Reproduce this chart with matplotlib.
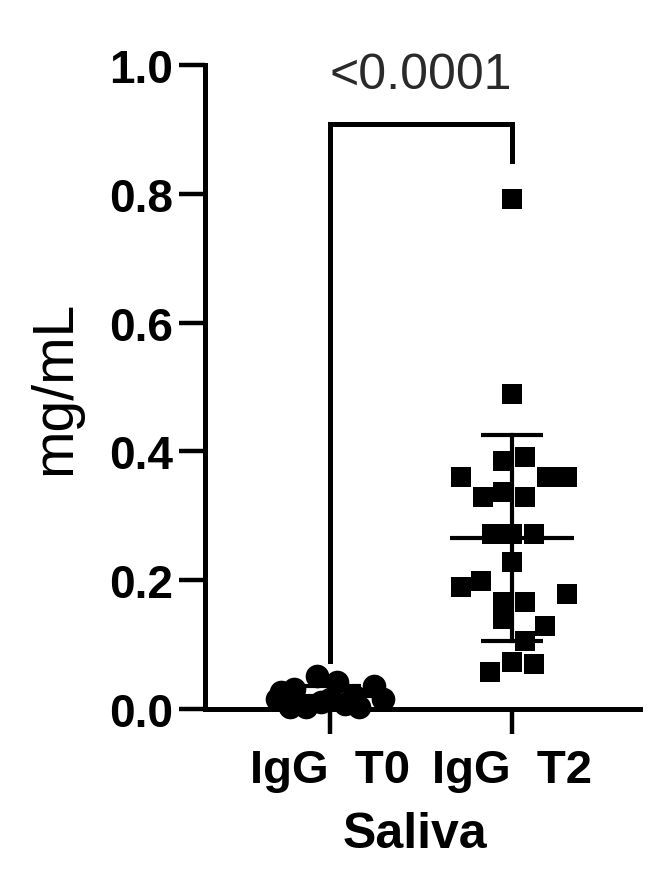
"""Saliva IgG at T0 vs T2 — scatter with mean +/- SD and significance bracket."""

import matplotlib

matplotlib.use("Agg")
import matplotlib.pyplot as plt
import numpy as np

plt.rcParams["font.family"] = ["Liberation Sans", "DejaVu Sans"]

# Group names and positions on the x-axis
GROUPS = ["IgG  T0", "IgG  T2"]

# IgG T0 values (mg/mL) with horizontal jitter (in group-width units)
t0_values = [0.051, 0.042, 0.036, 0.026, 0.031, 0.016, 0.016, 0.020,
             0.003, 0.003, 0.003, 0.016, 0.008, 0.011]
t0_offsets = [-0.07, 0.04, 0.24, -0.27, -0.20, 0.29, 0.0, 0.13,
              -0.22, -0.13, 0.16, -0.29, 0.08, -0.05]

# IgG T2 values (mg/mL) with horizontal jitter
t2_values = [0.792, 0.489, 0.391, 0.385, 0.360, 0.360, 0.360, 0.337,
             0.329, 0.329, 0.272, 0.272, 0.272, 0.228, 0.189, 0.199,
             0.179, 0.166, 0.166, 0.140, 0.129, 0.106, 0.073, 0.070, 0.057]
t2_offsets = [0.0, 0.0, 0.07, -0.05, -0.28, 0.19, 0.30, -0.05,
              -0.16, 0.07, -0.11, 0.0, 0.12, 0.0, -0.28, -0.17,
              0.30, -0.05, 0.07, -0.05, 0.18, 0.07, 0.0, 0.12, -0.12]

P_LABEL = "<0.0001"
Y_TICKS = [0.0, 0.2, 0.4, 0.6, 0.8, 1.0]


def draw_group(ax, x, values, offsets, marker, size):
    values = np.array(values)
    xs = x + np.array(offsets)
    ax.scatter(xs, values, s=size, marker=marker, color="black",
               linewidths=0, zorder=3, clip_on=False)

    mean = values.mean()
    sd = values.std(ddof=1)
    ax.plot([x - 0.34, x + 0.34], [mean, mean], color="black", lw=3, zorder=2,
            solid_capstyle="butt")
    ax.plot([x, x], [mean - sd, mean + sd], color="black", lw=3, zorder=4)
    for y in (mean - sd, mean + sd):
        ax.plot([x - 0.17, x + 0.17], [y, y], color="black", lw=3, zorder=4,
                solid_capstyle="butt")


def main():
    fig = plt.figure(figsize=(6.5, 8.78), dpi=100)
    ax = fig.add_axes([0.3154, 0.1913, 0.6692, 0.7335])

    draw_group(ax, 0, t0_values, t0_offsets, "o", 290)
    draw_group(ax, 1, t2_values, t2_offsets, "s", 220)

    # significance bracket
    ax.plot([0, 0, 1, 1], [0.075, 0.908, 0.908, 0.851], color="black", lw=3.6,
            solid_joinstyle="miter", clip_on=False)
    ax.text(0.5, 0.965, P_LABEL, ha="center", va="baseline", fontsize=36,
            color="#2a2a2a", clip_on=False)

    ax.set_xlim(-0.687, 1.703)
    ax.set_ylim(0, 1.0)
    ax.set_xticks([0, 1])
    ax.set_xticklabels(GROUPS, fontsize=34, fontweight="bold")
    ax.set_yticks(Y_TICKS)
    ax.set_yticklabels([f"{v:.1f}" for v in Y_TICKS], fontsize=33,
                       fontweight="bold")

    for side in ("top", "right"):
        ax.spines[side].set_visible(False)
    for side in ("left", "bottom"):
        ax.spines[side].set_linewidth(3.6)
    ax.tick_params(axis="y", length=19, width=3.2, pad=4)
    ax.tick_params(axis="x", length=18, width=3.2, pad=10)

    ax.text(-0.345, 0.5, "mg/mL", transform=ax.transAxes, rotation=90,
            ha="center", va="center", fontsize=41)
    fig.text(415 / 650, 1 - 835 / 878, "Saliva", ha="center", va="center",
             fontsize=36, fontweight="bold")

    fig.savefig("out.png", dpi=100)
    plt.close(fig)


if __name__ == "__main__":
    main()
